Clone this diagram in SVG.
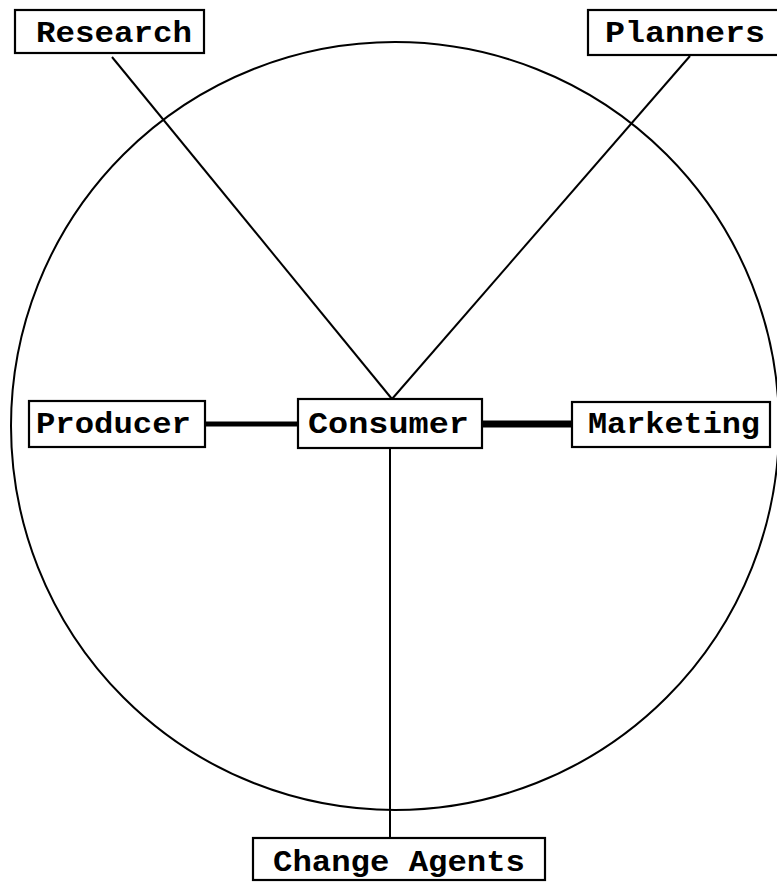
<svg xmlns="http://www.w3.org/2000/svg" width="777" height="882" viewBox="0 0 777 882">
<style>
.box{fill:#fff;stroke:#000;stroke-width:2.2}
.lbl{font-family:"Liberation Mono","DejaVu Sans Mono",monospace;font-weight:bold;font-size:29px;fill:#000}
.ln{stroke:#000;fill:none}
</style>
<rect width="777" height="882" fill="#fff"/>
<circle cx="395" cy="426" r="384" class="ln" stroke-width="2"/>
<g id="connectors">
<line class="ln" x1="112" y1="57" x2="392" y2="399" stroke-width="2"/>
<line class="ln" x1="690" y1="56" x2="392" y2="399" stroke-width="2"/>
<line class="ln" x1="390" y1="448" x2="390" y2="838" stroke-width="2"/>
<line class="ln" x1="205" y1="424" x2="298" y2="424" stroke-width="5"/>
<line class="ln" x1="482" y1="424" x2="572" y2="424" stroke-width="7"/>
</g>
<g id="research"><rect class="box" x="15" y="10" width="189" height="43"/><text class="lbl" x="36" y="42" textLength="156" lengthAdjust="spacingAndGlyphs">Research</text></g>
<g id="planners"><rect class="box" x="588" y="10" width="195" height="45"/><text class="lbl" x="605" y="42" textLength="160" lengthAdjust="spacingAndGlyphs">Planners</text></g>
<g id="producer"><rect class="box" x="29" y="401" width="176" height="46"/><text class="lbl" x="36" y="433" textLength="155" lengthAdjust="spacingAndGlyphs">Producer</text></g>
<g id="consumer"><rect class="box" x="298" y="399" width="184" height="49"/><text class="lbl" x="308" y="433" textLength="161" lengthAdjust="spacingAndGlyphs">Consumer</text></g>
<g id="marketing"><rect class="box" x="572" y="402" width="198" height="45"/><text class="lbl" x="588" y="433" textLength="172" lengthAdjust="spacingAndGlyphs">Marketing</text></g>
<g id="change-agents"><rect class="box" x="253" y="838" width="292" height="42"/><text class="lbl" x="273" y="871" textLength="252" lengthAdjust="spacingAndGlyphs">Change Agents</text></g>
</svg>
